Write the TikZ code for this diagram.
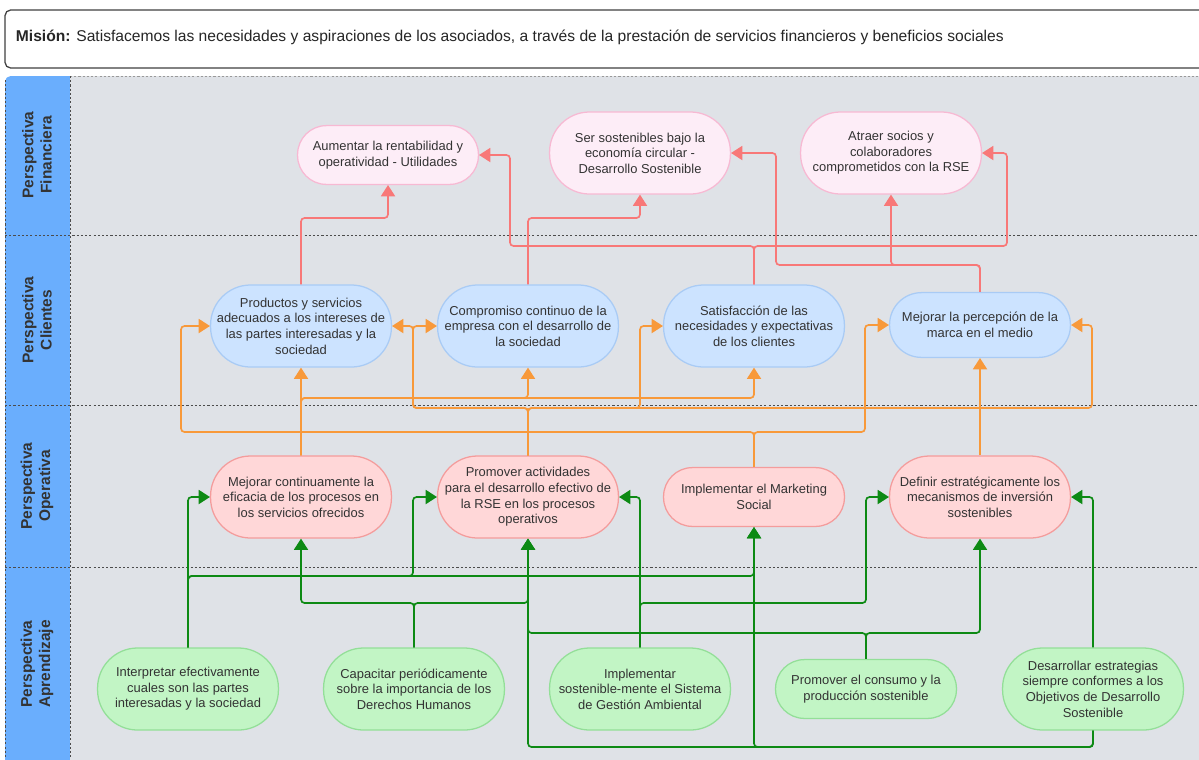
\documentclass[tikz,border=0pt]{standalone}
\usepackage{fontspec}
\setmainfont{Liberation Sans}
\usetikzlibrary{arrows.meta}

\definecolor{carril}{HTML}{DFE2E7}
\definecolor{columna}{HTML}{6AAEFD}
\definecolor{texto}{HTML}{333333}
\definecolor{finrelleno}{HTML}{FDEDF7}
\definecolor{finborde}{HTML}{F7B9D3}
\definecolor{clirelleno}{HTML}{CCE3FF}
\definecolor{cliborde}{HTML}{A9CBF5}
\definecolor{operelleno}{HTML}{FFD7D8}
\definecolor{opeborde}{HTML}{F49C9C}
\definecolor{aprrelleno}{HTML}{C2F5C5}
\definecolor{aprborde}{HTML}{93DF98}
\definecolor{lrojo}{HTML}{F87878}
\definecolor{lnaranja}{HTML}{F8993A}
\definecolor{lverde}{HTML}{0D8A14}

\tikzset{
  meta/.style={draw, line width=0.9pt, align=center, text=texto,
    font=\fontsize{9.2}{11.1}\selectfont, inner sep=1pt, minimum width=4.52cm},
  alto/.style={minimum height=2.05cm, rounded corners=1.0cm},
  medio/.style={minimum height=1.62cm, rounded corners=0.8cm},
  bajo/.style={minimum height=1.47cm, rounded corners=0.72cm},
  fin/.style={meta, fill=finrelleno, draw=finborde},
  cli/.style={meta, fill=clirelleno, draw=cliborde},
  ope/.style={meta, fill=operelleno, draw=opeborde},
  apr/.style={meta, fill=aprrelleno, draw=aprborde},
  enlace/.style={line width=1.2pt, rounded corners=2.5pt, -{Triangle[length=8pt,width=10pt]}},
  rojo/.style={enlace, draw=lrojo},
  naranja/.style={enlace, draw=lnaranja},
  verde/.style={enlace, draw=lverde},
  etiqueta/.style={rotate=90, align=center, text=texto, font=\bfseries\fontsize{11}{13}\selectfont},
  separador/.style={draw=black!70, line width=0.5pt, dash pattern=on 1.5pt off 1.5pt}
}

\begin{document}
\begin{tikzpicture}[x=0.025cm, y=0.025cm]
  \useasboundingbox (0,0) rectangle (1199,-759);
  \clip (0,0) rectangle (1199,-759);

  % mision
  \draw[rounded corners=4pt, draw=black!75, line width=0.9pt, fill=white] (5,-10) rectangle (1215,-68);
  \node[anchor=west, text=black!85, font=\fontsize{11.1}{13}\selectfont] (mision) at (11,-37)
    {\textbf{Misión:} Satisfacemos las necesidades y aspiraciones de los asociados, a través de la prestación de servicios financieros y beneficios sociales};

  % carriles
  \fill[columna, rounded corners=4pt] (5,-76) rectangle (76,-770);
  \fill[carril] (70,-76) rectangle (1215,-770);
  \draw[separador, draw=black!40] (70,-76) -- (1199,-76);
  \draw[separador] (5,-80) -- (5,-759);
  \draw[separador] (70,-76) -- (70,-759);
  \foreach \y in {235,405,567}
    \draw[separador] (5,-\y) -- (1199,-\y);

  \node[etiqueta] (lfin) at (37,-155) {Perspectiva\\Financiera};
  \node[etiqueta] (lcli) at (37,-320) {Perspectiva\\Clientes};
  \node[etiqueta] (lope) at (37,-486) {Perspectiva\\Operativa};
  \node[etiqueta] (lapr) at (37,-664) {Perspectiva\\Aprendizaje};

  % perspectiva financiera
  \node[fin, bajo] (F1) at (388,-155) {Aumentar la rentabilidad y\\operatividad - Utilidades};
  \node[fin, alto] (F2) at (640,-153) {Ser sostenibles bajo la\\economía circular -\\Desarrollo Sostenible};
  \node[fin, alto] (F3) at (891,-153) {Atraer socios y\\colaboradores\\comprometidos con la RSE};

  % perspectiva clientes
  \node[cli, alto] (C1) at (301,-326) {Productos y servicios\\adecuados a los intereses de\\las partes interesadas y la\\sociedad};
  \node[cli, alto] (C2) at (528,-326) {Compromiso continuo de la\\empresa con el desarrollo de\\la sociedad};
  \node[cli, alto] (C3) at (754,-326) {Satisfacción de las\\necesidades y expectativas\\de los clientes};
  \node[cli, medio] (C4) at (980,-325) {Mejorar la percepción de la\\marca en el medio};

  % perspectiva operativa
  \node[ope, alto] (O1) at (301,-497) {Mejorar continuamente la\\eficacia de los procesos en\\los servicios ofrecidos};
  \node[ope, alto] (O2) at (528,-497) {Promover actividades\\para el desarrollo efectivo de\\la RSE en los procesos\\operativos};
  \node[ope, bajo] (O3) at (754,-497) {Implementar el Marketing\\Social};
  \node[ope, alto] (O4) at (980,-497) {Definir estratégicamente los\\mecanismos de inversión\\sostenibles};

  % perspectiva aprendizaje
  \node[apr, alto] (A1) at (188,-689) {Interpretar efectivamente\\cuales son las partes\\interesadas y la sociedad};
  \node[apr, alto] (A2) at (414,-689) {Capacitar periódicamente\\sobre la importancia de los\\Derechos Humanos};
  \node[apr, alto] (A3) at (640,-689) {Implementar\\sostenible-mente el Sistema\\de Gestión Ambiental};
  \node[apr, bajo] (A4) at (866,-689) {Promover el consumo y la\\producción sostenible};
  \node[apr, alto] (A5) at (1093,-689) {Desarrollar estrategias\\siempre conformes a los\\Objetivos de Desarrollo\\Sostenible};

  % niveles de las lineas
  \coordinate (r1) at (0,-218);
  \coordinate (r2) at (0,-246);
  \coordinate (r3) at (0,-265);
  \coordinate (rx1) at (510,0);
  \coordinate (rx2) at (1007,0);
  \coordinate (rx3) at (776,0);
  \coordinate (o1) at (0,-398);
  \coordinate (o2) at (0,-408);
  \coordinate (o3) at (0,-432);
  \coordinate (ox1) at (413,0);
  \coordinate (ox2) at (640,0);
  \coordinate (ox3) at (1092,0);
  \coordinate (ox4) at (181,0);
  \coordinate (ox5) at (865,0);
  \coordinate (g1) at (0,-576);
  \coordinate (g2) at (0,-603);
  \coordinate (g3) at (0,-633);
  \coordinate (g4) at (0,-747);
  \coordinate (gx1) at (413,0);
  \coordinate (gx2) at (866,0);

  % clientes -> financiera
  \draw[rojo] (C1.north) -- (C1.north |- r1) -| (F1.south);
  \draw[rojo] (C2.north) -- (C2.north |- r1) -| (F2.south);
  \draw[rojo] (C3.north) -- (C3.north |- r2) -- (rx1 |- r2) |- (F1.east);
  \draw[rojo] (C3.north) -- (C3.north |- r2) -- (rx2 |- r2) |- (F3.east);
  \draw[rojo] (C4.north) -- (C4.north |- r3) -| (F3.south);
  \draw[rojo] (C4.north) -- (C4.north |- r3) -- (rx3 |- r3) |- (F2.east);

  % operativa -> clientes
  \draw[naranja] (O1.north) -- (C1.south);
  \draw[naranja] (O1.north) -- (O1.north |- o1) -| (C2.south);
  \draw[naranja] (O1.north) -- (O1.north |- o1) -| (C3.south);
  \draw[naranja] (O2.north) -- (O2.north |- o2) -- (ox1 |- o2) |- (C1.east);
  \draw[naranja] (O2.north) -- (O2.north |- o2) -- (ox1 |- o2) |- (C2.west);
  \draw[naranja] (O2.north) -- (O2.north |- o2) -- (ox2 |- o2) |- (C3.west);
  \draw[naranja] (O2.north) -- (O2.north |- o2) -- (ox3 |- o2) |- (C4.east);
  \draw[naranja] (O3.north) -- (O3.north |- o3) -- (ox4 |- o3) |- (C1.west);
  \draw[naranja] (O3.north) -- (O3.north |- o3) -- (ox5 |- o3) |- (C4.west);
  \draw[naranja] (O4.north) -- (C4.south);

  % aprendizaje -> operativa
  \draw[verde] (A1.north) |- (O1.west);
  \draw[verde] (A1.north) -- (A1.north |- g1) -- (gx1 |- g1) |- (O2.west);
  \draw[verde] (A1.north) -- (A1.north |- g1) -| (O3.south);
  \draw[verde] (A2.north) -- (A2.north |- g2) -| (O1.south);
  \draw[verde] (A2.north) -- (A2.north |- g2) -| (O2.south);
  \draw[verde] (A3.north) |- (O2.east);
  \draw[verde] (A3.north) -- (A3.north |- g2) -- (gx2 |- g2) |- (O4.west);
  \draw[verde] (A4.north) -- (A4.north |- g3) -| (O2.south);
  \draw[verde] (A4.north) -- (A4.north |- g3) -| (O4.south);
  \draw[verde] (A5.north) |- (O4.east);
  \draw[verde] (A5.south) -- (A5.south |- g4) -| (O3.south);
  \draw[verde] (A5.south) -- (A5.south |- g4) -| (O2.south);
\end{tikzpicture}
\end{document}
